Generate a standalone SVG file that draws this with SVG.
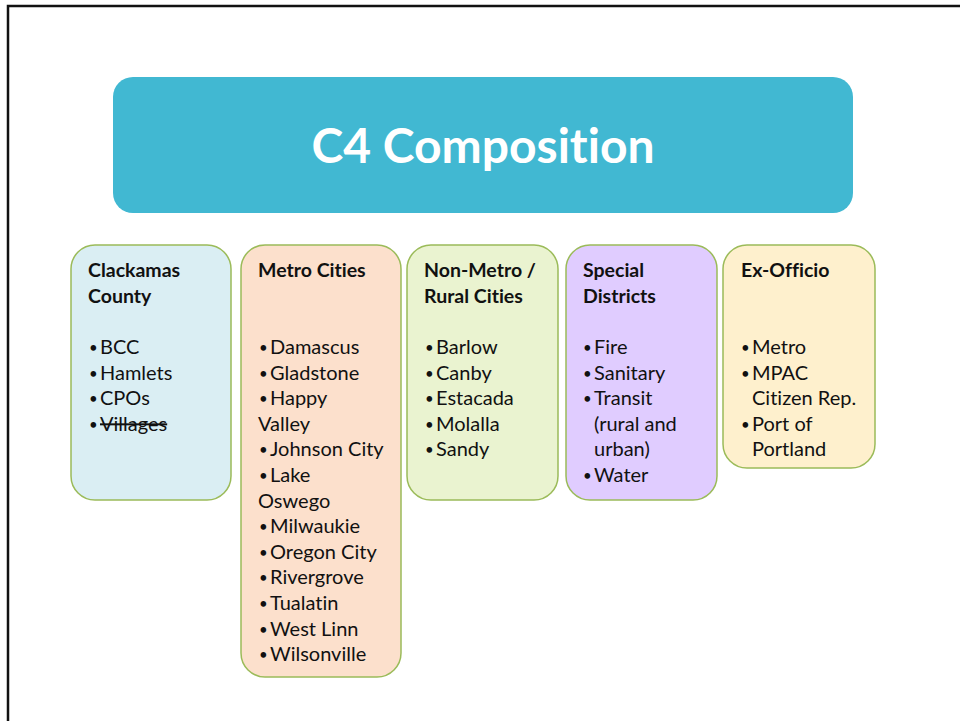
<svg xmlns="http://www.w3.org/2000/svg" width="960" height="721" viewBox="0 0 960 721">
<style>
.box{stroke:#9BBB59;stroke-width:1.5}
text{font-family:Lato,"Open Sans","Liberation Sans",sans-serif;fill:#111;font-variant-ligatures:none;font-feature-settings:"liga" 0}
.h{font-size:19.5px;font-weight:bold}
.t{font-size:20px}
.b{font-size:15px}
.title{font-size:48px;font-weight:bold;fill:#fff}
</style>
<rect x="0" y="0" width="960" height="721" fill="#fff"/>
<path d="M8 721 V6 H960" fill="none" stroke="#111" stroke-width="2.5"/>
<g id="title">
<rect x="113" y="77" width="740" height="136" rx="20" fill="#41B8D2"/>
<text class="title" x="483" y="163" text-anchor="middle">C4 Composition</text>
</g>
<g id="clackamas">
<rect class="box" x="71" y="245" width="160" height="255" rx="24" fill="#DAEEF3"/>
<text class="h" x="88" y="277">Clackamas</text>
<text class="h" x="88" y="303">County</text>
<text class="b" x="89" y="353">•</text><text class="t" x="100" y="354">BCC</text>
<text class="b" x="89" y="379">•</text><text class="t" x="100" y="380">Hamlets</text>
<text class="b" x="89" y="404">•</text><text class="t" x="100" y="405">CPOs</text>
<text class="b" x="89" y="430">•</text><text class="t" x="100" y="431" text-decoration="line-through">Villages</text>
</g>
<g id="metro">
<rect class="box" x="241" y="245" width="160" height="432" rx="24" fill="#FCE0CC"/>
<text class="h" x="258" y="277">Metro Cities</text>
<text class="b" x="259" y="353">•</text><text class="t" x="270" y="354">Damascus</text>
<text class="b" x="259" y="379">•</text><text class="t" x="270" y="380">Gladstone</text>
<text class="b" x="259" y="404">•</text><text class="t" x="270" y="405">Happy</text>
<text class="t" x="258" y="431">Valley</text>
<text class="b" x="259" y="455">•</text><text class="t" x="270" y="456">Johnson City</text>
<text class="b" x="259" y="481">•</text><text class="t" x="270" y="482">Lake</text>
<text class="t" x="258" y="508">Oswego</text>
<text class="b" x="259" y="532">•</text><text class="t" x="270" y="533">Milwaukie</text>
<text class="b" x="259" y="558">•</text><text class="t" x="270" y="559">Oregon City</text>
<text class="b" x="259" y="583">•</text><text class="t" x="270" y="584">Rivergrove</text>
<text class="b" x="259" y="609">•</text><text class="t" x="270" y="610">Tualatin</text>
<text class="b" x="259" y="635">•</text><text class="t" x="270" y="636">West Linn</text>
<text class="b" x="259" y="660">•</text><text class="t" x="270" y="661">Wilsonville</text>
</g>
<g id="nonmetro">
<rect class="box" x="407" y="245" width="151" height="255" rx="24" fill="#EAF3D0"/>
<text class="h" x="424" y="277">Non-Metro /</text>
<text class="h" x="424" y="303">Rural Cities</text>
<text class="b" x="425" y="353">•</text><text class="t" x="436" y="354">Barlow</text>
<text class="b" x="425" y="379">•</text><text class="t" x="436" y="380">Canby</text>
<text class="b" x="425" y="404">•</text><text class="t" x="436" y="405">Estacada</text>
<text class="b" x="425" y="430">•</text><text class="t" x="436" y="431">Molalla</text>
<text class="b" x="425" y="455">•</text><text class="t" x="436" y="456">Sandy</text>
</g>
<g id="special">
<rect class="box" x="566" y="245" width="151" height="255" rx="24" fill="#E0CCFF"/>
<text class="h" x="583" y="277">Special</text>
<text class="h" x="583" y="303">Districts</text>
<text class="b" x="583" y="353">•</text><text class="t" x="594" y="354">Fire</text>
<text class="b" x="583" y="379">•</text><text class="t" x="594" y="380">Sanitary</text>
<text class="b" x="583" y="404">•</text><text class="t" x="594" y="405">Transit</text>
<text class="t" x="594" y="431">(rural and</text>
<text class="t" x="594" y="456">urban)</text>
<text class="b" x="583" y="481">•</text><text class="t" x="594" y="482">Water</text>
</g>
<g id="exofficio">
<rect class="box" x="723" y="245" width="152" height="223" rx="24" fill="#FEF0CD"/>
<text class="h" x="741" y="277">Ex-Officio</text>
<text class="b" x="741" y="353">•</text><text class="t" x="752" y="354">Metro</text>
<text class="b" x="741" y="379">•</text><text class="t" x="752" y="380">MPAC</text>
<text class="t" x="752" y="405">Citizen Rep.</text>
<text class="b" x="741" y="430">•</text><text class="t" x="752" y="431">Port of</text>
<text class="t" x="752" y="456">Portland</text>
</g>
<g id="connectors"/>
</svg>
